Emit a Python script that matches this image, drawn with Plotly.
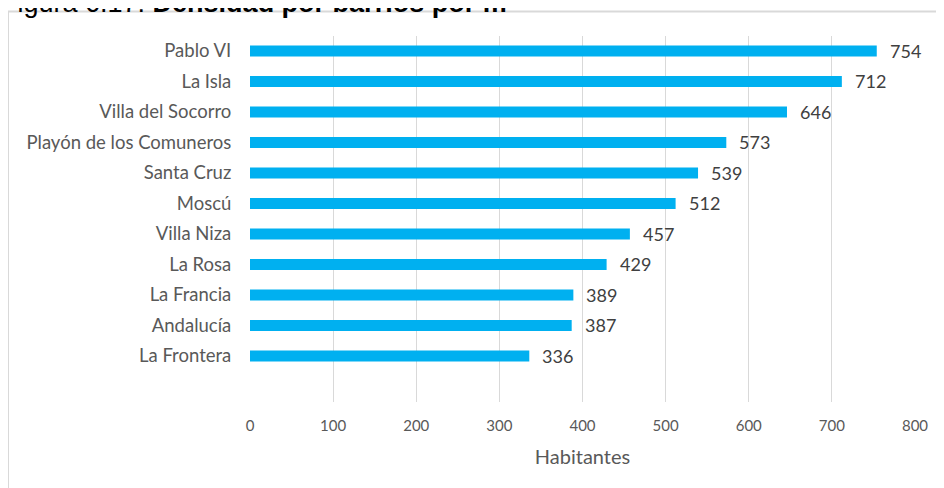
import plotly.graph_objects as go

barrios = ["La Frontera", "Andalucía", "La Francia", "La Rosa", "Villa Niza", "Moscú",
           "Santa Cruz", "Playón de los Comuneros", "Villa del Socorro", "La Isla", "Pablo VI"]
habitantes = [336, 387, 389, 429, 457, 512, 539, 573, 646, 712, 754]
x_ticks = [0, 100, 200, 300, 400, 500, 600, 700, 800]

# page is shown with an 8px body margin: work in page pixels, convert to figure pixels
OFF = 8
W, H = 944 - OFF, 488 - OFF
PL, PR, PT, PB = 250, 915, 36, 402          # plot area in page pixels
L, R, T, B = PL - OFF, (944 - PR), PT - OFF, (488 - PB)
pw, ph = PR - PL, PB - PT

def px_x(p):
    return (p - PL) / pw

def px_y(p):
    return (PB - p) / ph

fig = go.Figure()
fig.add_trace(go.Bar(
    x=habitantes, y=barrios, orientation="h",
    marker=dict(color="#00B0F0", line=dict(width=0)),
    width=0.36, hoverinfo="x+y",
))

for b, v in zip(barrios, habitantes):
    fig.add_annotation(x=v, y=b, xref="x", yref="y", text=str(v), showarrow=False,
                       xanchor="left", yanchor="middle", xshift=11,
                       font=dict(family="Lato", size=18, color="#404040"))

fig.add_annotation(x=px_x(-1), y=px_y(3), xref="paper", yref="paper",
                   text="Figura 6.17: <b>Densidad por barrios por m</b>",
                   showarrow=False, xanchor="left", yanchor="middle",
                   font=dict(family="Liberation Sans", size=27, color="#000000"))

fig.add_shape(type="rect", xref="paper", yref="paper",
              x0=px_x(8), x1=px_x(960), y0=px_y(500), y1=px_y(11.5),
              line=dict(color="#d9d9d9", width=2), fillcolor="rgba(0,0,0,0)", layer="below")

fig.update_layout(
    width=W, height=H,
    margin=dict(l=L, r=R, t=T, b=B, pad=0),
    paper_bgcolor="white", plot_bgcolor="white",
    showlegend=False,
    xaxis=dict(range=[0, 800], tickvals=x_ticks, ticktext=[str(t) for t in x_ticks],
               showgrid=True, gridcolor="#d9d9d9", gridwidth=1, zeroline=False,
               showline=False, ticks="outside", ticklen=10, tickcolor="rgba(0,0,0,0)",
               tickfont=dict(family="Lato", size=15, color="#595959"),
               title=dict(text="Habitantes", standoff=16,
                          font=dict(family="Lato", size=20, color="#595959"))),
    yaxis=dict(categoryorder="array", categoryarray=barrios, range=[-1.51, 10.49],
               showgrid=False, zeroline=False, showline=False,
               ticks="outside", ticklen=14, tickcolor="rgba(0,0,0,0)",
               tickfont=dict(family="Lato", size=18.5, color="#595959")),
)

fig.write_html("out.html")
